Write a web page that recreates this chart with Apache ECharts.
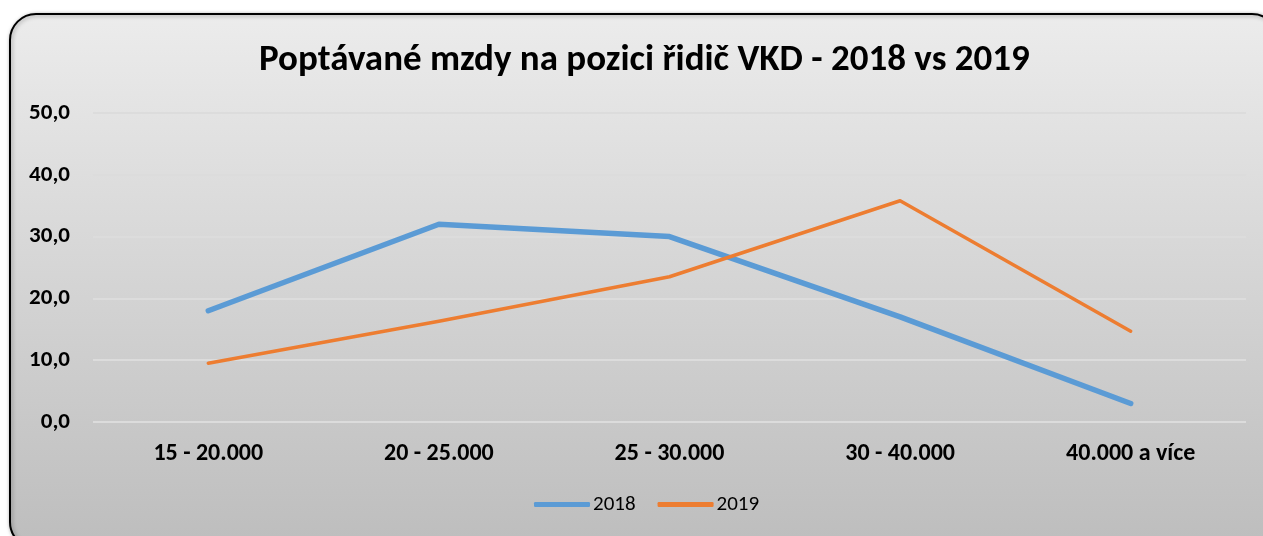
<!DOCTYPE html>
<html><head><meta charset="utf-8">
<script src="https://cdn.jsdelivr.net/npm/echarts@6/dist/echarts.min.js"></script>
<style>html,body{margin:0;padding:0;background:#fff;}#c{width:1263px;height:536px;}</style>
</head><body><div id="c"></div>
<script>
const categories = ['15 - 20.000', '20 - 25.000', '25 - 30.000', '30 - 40.000', '40.000 a více'];
const values2018 = [18.0, 32.0, 30.0, 17.0, 3.0];
const values2019 = [9.5, 16.3, 23.5, 35.8, 14.7];
const seriesNames = ['2018', '2019'];
const titleText = 'Poptávané mzdy na pozici řidič VKD - 2018 vs 2019';

const chart = echarts.init(document.getElementById('c'), null, {renderer: 'canvas'});
const font = 'Carlito, "Open Sans", "Liberation Sans", sans-serif';
chart.setOption({
  animation: false,
  graphic: [{
    type: 'rect', z: -10, silent: true,
    shape: {x: 10, y: 14, width: 1268, height: 534, r: 26},
    style: {
      fill: new echarts.graphic.LinearGradient(0, 0, 0, 1, [
        {offset: 0, color: '#ececec'}, {offset: 1, color: '#bdbdbd'}
      ]),
      stroke: '#000', lineWidth: 2,
      shadowBlur: 4, shadowColor: 'rgba(0,0,0,0.35)', shadowOffsetX: 1, shadowOffsetY: 1
    }
  }],
  title: {
    text: titleText, left: 254, top: 37,
    textStyle: {fontFamily: font, fontWeight: 'bold', fontSize: 37, color: '#000'}
  },
  grid: {left: 93, right: 17, top: 113, bottom: 114, containLabel: false},
  legend: {
    bottom: 16, left: 529, itemWidth: 56, itemHeight: 5, itemGap: 22,
    textStyle: {fontFamily: font, fontSize: 21, color: '#000', padding: [0, 0, 0, -2]},
    data: [
      {name: seriesNames[0], icon: 'roundRect'},
      {name: seriesNames[1], icon: 'roundRect'}
    ]
  },
  xAxis: {
    type: 'category', data: categories, boundaryGap: true,
    axisLine: {show: false}, axisTick: {show: false},
    axisLabel: {fontFamily: font, fontWeight: 'bold', fontSize: 24, color: '#000', margin: 20}
  },
  yAxis: {
    type: 'value', min: 0, max: 50, interval: 10,
    axisLine: {show: false}, axisTick: {show: false},
    splitLine: {lineStyle: {color: '#dcdcdc', width: 2}},
    axisLabel: {fontFamily: font, fontWeight: 'bold', fontSize: 23, color: '#000', margin: 23,
      formatter: v => v.toFixed(1).replace('.', ',')}
  },
  series: [
    {name: seriesNames[0], type: 'line', data: values2018, symbol: 'none',
     itemStyle: {color: '#5b9bd5'}, lineStyle: {color: '#5b9bd5', width: 5.5, cap: 'round', join: 'round'}},
    {name: seriesNames[1], type: 'line', data: values2019, symbol: 'none',
     itemStyle: {color: '#ed7d31'}, lineStyle: {color: '#ed7d31', width: 3.5, cap: 'round', join: 'round'}}
  ]
});
</script></body></html>
